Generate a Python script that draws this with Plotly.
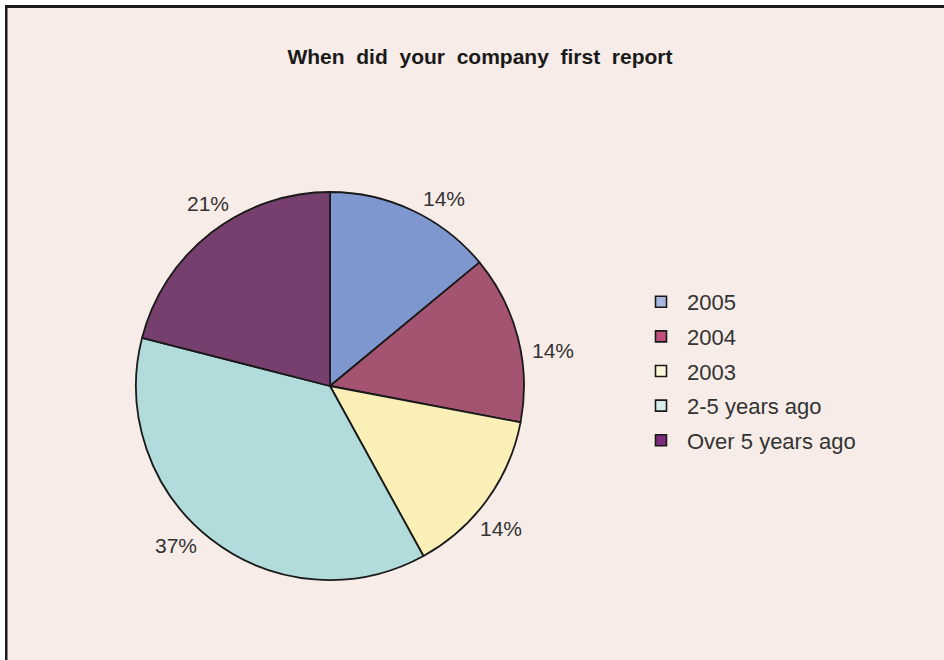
import math
import plotly.graph_objects as go

# ---- data ----
categories = ["2005", "2004", "2003", "2-5 years ago", "Over 5 years ago"]
values = [14, 14, 14, 37, 21]
slice_colors = ["#7F97CF", "#A45470", "#FAF0B7", "#B1DCDB", "#773F6D"]
legend_colors = ["#A9B8E0", "#BF4F7C", "#FDF6D8", "#D8EEEE", "#7B2C7B"]
title_text = "When  did  your  company  first  report"

W, H = 944, 660
BG = "#F7ECE7"
CX, CY, R = 330, 386, 194  # pie centre / radius in pixels

fig = go.Figure()

fig.add_trace(go.Pie(
    labels=categories,
    values=values,
    sort=False,
    direction="clockwise",
    rotation=0,
    marker=dict(colors=slice_colors, line=dict(color="#1a1a1a", width=1.8)),
    textinfo="none",
    hoverinfo="label+percent",
    showlegend=False,
    domain=dict(x=[(CX - R) / W, (CX + R) / W],
                y=[(H - CY - R) / H, (H - CY + R) / H]),
))

# legend entries (one group per category so the row gap can be set)
for cat, col in zip(categories, legend_colors):
    fig.add_trace(go.Scatter(
        x=[None], y=[None], mode="markers", name=cat, legendgroup=cat,
        marker=dict(symbol="square", size=11, color=col,
                    line=dict(color="#1a1a1a", width=1.6)),
        hoverinfo="skip",
    ))

# percentage labels computed from the values
total = sum(values)
annotations = []
cum = 0.0
gap, bw, bh, shift = 14, 36, 18, 5
for v in values:
    theta = math.radians(360.0 * (cum + v / 2.0) / total + shift)
    s, c = math.sin(theta), math.cos(theta)
    px = CX + (R + gap) * s + (bw / 2) * s
    py = CY - (R + gap) * c - (bh / 2) * c
    annotations.append(dict(
        x=px / W, y=1 - py / H, xref="paper", yref="paper",
        text=f"{round(100 * v / total)}%", showarrow=False,
        xanchor="center", yanchor="middle",
        font=dict(family="Liberation Sans, Arial, sans-serif", size=21, color="#333333"),
    ))
    cum += v

shapes = [
    # white outer strips
    dict(type="rect", xref="paper", yref="paper", x0=0, x1=1, y0=1 - 5 / H, y1=1,
         fillcolor="white", line=dict(width=0), layer="above"),
    dict(type="rect", xref="paper", yref="paper", x0=0, x1=5 / W, y0=0, y1=1,
         fillcolor="white", line=dict(width=0), layer="above"),
    # black frame lines (top and left)
    dict(type="rect", xref="paper", yref="paper", x0=5 / W, x1=1, y0=1 - 8 / H, y1=1 - 5 / H,
         fillcolor="#1a1a1a", line=dict(width=0), layer="above"),
    dict(type="rect", xref="paper", yref="paper", x0=5 / W, x1=7.5 / W, y0=0, y1=1 - 5 / H,
         fillcolor="#1a1a1a", line=dict(width=0), layer="above"),
]

fig.update_layout(
    width=W, height=H,
    margin=dict(l=0, r=0, t=0, b=0, pad=0),
    paper_bgcolor=BG, plot_bgcolor=BG,
    title=dict(text=title_text, x=480 / W, xanchor="center", y=1 - 57 / H, yanchor="middle",
               font=dict(family="Liberation Sans, Arial, sans-serif", size=21,
                         color="#1a1a1a", weight="bold")),
    xaxis=dict(visible=False), yaxis=dict(visible=False),
    showlegend=True,
    legend=dict(x=635 / W, xanchor="left", y=1 - 281 / H, yanchor="top",
                font=dict(family="Liberation Sans, Arial, sans-serif", size=22, color="#333333"),
                bgcolor="rgba(0,0,0,0)", borderwidth=0, itemwidth=42,
                tracegroupgap=3, traceorder="grouped"),
    annotations=annotations,
    shapes=shapes,
)

fig.write_html("out.html")
